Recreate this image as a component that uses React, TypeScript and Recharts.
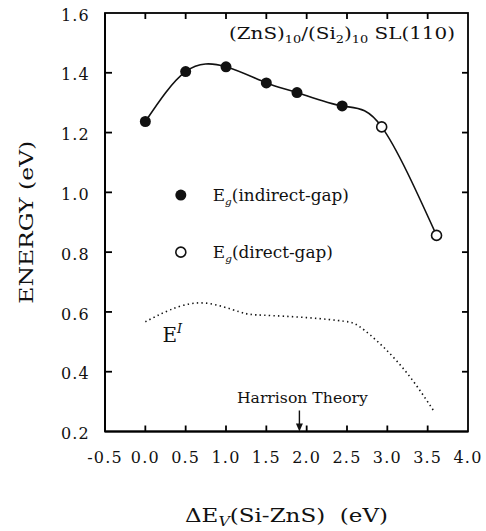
import { ComposedChart, Line, ReferenceDot, Scatter, XAxis, YAxis } from "recharts";

const serif = "DejaVu Serif";
const ink = "#111";

// layout
const chartW = 486;
const chartH = 531;
const margin = { top: 13, right: 18, left: 0, bottom: 0 };
const yAxisW = 105;
const xAxisH = 99.5;
const plotW = chartW - margin.right - margin.left - yAxisW;
const plotH = chartH - margin.top - margin.bottom - xAxisH;

const xTicks = [-0.5, 0, 0.5, 1, 1.5, 2, 2.5, 3, 3.5, 4];
const yTicks = [0.2, 0.4, 0.6, 0.8, 1.0, 1.2, 1.4, 1.6];
const xDomain = [-0.5, 4];
const yDomain = [0.2, 1.6];

// band gap vs valence band offset
const gapOffsets = [0.0, 0.5, 1.0, 1.5, 1.88, 2.44, 2.93, 3.61];
const gapEnergies = [1.237, 1.404, 1.42, 1.366, 1.334, 1.289, 1.219, 0.856];
const gapKinds = ["indirect", "indirect", "indirect", "indirect", "indirect", "indirect", "direct", "direct"];

// E^I dotted curve
const eiOffsets = [0.0, 0.3, 0.72, 1.17, 1.46, 2.0, 2.46, 2.66, 2.95, 3.28, 3.57];
const eiEnergies = [0.567, 0.606, 0.63, 0.6, 0.589, 0.581, 0.569, 0.55, 0.483, 0.383, 0.271];

const harrisonOffset = 1.91;

const gapData = gapOffsets.map((x, i) => ({ x, y: gapEnergies[i], kind: gapKinds[i] }));
const indirectPts = gapData.filter((d) => d.kind === "indirect");
const directPts = gapData.filter((d) => d.kind === "direct");
const eiData = eiOffsets.map((x, i) => ({ x, y: eiEnergies[i] }));

const innerX = xTicks.slice(1, -1);
const innerY = yTicks.slice(1, -1);

const fmt = (v: number) => v.toFixed(1);
const tickStyle = { fill: ink, fontSize: 16, style: { fontFamily: serif, letterSpacing: 1.2 } };

const FilledDot = (p: any) => <circle cx={p.cx} cy={p.cy} r={5.5} fill={ink} />;
const OpenDot = (p: any) => <circle cx={p.cx} cy={p.cy} r={5} fill="#fff" stroke={ink} strokeWidth={1.6} />;

const tickMark = (dx: number, dy: number) => (p: any) => (
  <g>
    <path d={`M${p.cx},${p.cy}L${p.cx + dx},${p.cy + dy}`} stroke="#000" strokeWidth={1.8} fill="none" />
  </g>
);

const txt = (size: number) => ({ fontSize: size, fill: ink, style: { fontFamily: serif } });

const XLabel = (props: any) => {
  const vb = props.viewBox;
  return (
    <text x={vb.x + vb.width / 2} y={vb.y + 90} textAnchor="middle" textLength={203} lengthAdjust="spacingAndGlyphs" {...txt(19)}>
      ΔE
      <tspan fontSize={13} fontStyle="italic" dy={4}>V</tspan>
      <tspan dy={-4}>(Si-ZnS){"\u00A0\u00A0"}(eV)</tspan>
    </text>
  );
};

const YLabel = (props: any) => {
  const vb = props.viewBox;
  const cy = vb.y + vb.height / 2;
  return (
    <text
      x={33}
      y={cy}
      transform={`rotate(-90, 33, ${cy})`}
      textAnchor="middle"
      textLength={163}
      lengthAdjust="spacingAndGlyphs"
      {...txt(19)}
    >
      ENERGY (eV)
    </text>
  );
};

export default function App() {
  return (
    <div style={{ position: "absolute", left: 0, top: 0, background: "#fff" }}>
      <ComposedChart width={chartW} height={chartH} margin={margin}>
        <XAxis
          dataKey="x"
          type="number"
          domain={xDomain}
          ticks={xTicks}
          interval={0}
          tickFormatter={fmt}
          tick={tickStyle}
          tickSize={0}
          tickMargin={20}
          height={xAxisH}
          axisLine={{ stroke: "#000", strokeWidth: 1.8 }}
          tickLine={false}
          label={{ content: XLabel }}
        />
        <YAxis
          type="number"
          domain={yDomain}
          ticks={yTicks}
          interval={0}
          tickFormatter={fmt}
          tick={{ ...tickStyle, dy: 2 }}
          tickSize={0}
          tickMargin={15}
          width={yAxisW}
          axisLine={{ stroke: "#000", strokeWidth: 1.8 }}
          tickLine={false}
          label={{ content: YLabel }}
        />

        <Line
          data={eiData}
          dataKey="y"
          type="natural"
          stroke={ink}
          strokeWidth={1.6}
          strokeDasharray="1.4 3.2"
          dot={false}
          isAnimationActive={false}
        />
        <Line data={gapData} dataKey="y" type="natural" stroke={ink} strokeWidth={1.6} dot={false} isAnimationActive={false} />
        <Scatter data={indirectPts} dataKey="y" shape={FilledDot} isAnimationActive={false} />
        <Scatter data={directPts} dataKey="y" shape={OpenDot} isAnimationActive={false} />

        <ReferenceDot
          x={4}
          y={1.6}
          shape={(p: any) => (
            <text x={p.cx - 13} y={p.cy + 26} textAnchor="end" textLength={226} lengthAdjust="spacingAndGlyphs" {...txt(17)}>
              (ZnS)<tspan fontSize={11} dy={4}>10</tspan>
              <tspan dy={-4}>/(Si</tspan>
              <tspan fontSize={11} dy={4}>2</tspan>
              <tspan dy={-4}>)</tspan>
              <tspan fontSize={11} dy={4}>10</tspan>
              <tspan dy={-4}>{"\u00A0"}SL(110)</tspan>
            </text>
          )}
        />
        <ReferenceDot
          x={0.44}
          y={0.991}
          shape={(p: any) => (
            <g>
              <circle cx={p.cx} cy={p.cy} r={5.5} fill={ink} />
              <text x={p.cx + 32} y={p.cy + 6} textLength={136} lengthAdjust="spacingAndGlyphs" {...txt(16)}>
                E<tspan fontSize={10} fontStyle="italic" dy={4}>g</tspan>
                <tspan dy={-4}>(indirect-gap)</tspan>
              </text>
            </g>
          )}
        />
        <ReferenceDot
          x={0.44}
          y={0.8}
          shape={(p: any) => (
            <g>
              <circle cx={p.cx} cy={p.cy} r={5} fill="#fff" stroke={ink} strokeWidth={1.6} />
              <text x={p.cx + 32} y={p.cy + 6} textLength={120} lengthAdjust="spacingAndGlyphs" {...txt(16)}>
                E<tspan fontSize={10} fontStyle="italic" dy={4}>g</tspan>
                <tspan dy={-4}>(direct-gap)</tspan>
              </text>
            </g>
          )}
        />
        <ReferenceDot
          x={0.2}
          y={0.5}
          shape={(p: any) => (
            <text x={p.cx + 1} y={p.cy} {...txt(20)}>
              E<tspan fontSize={13} fontStyle="italic" dy={-9}>I</tspan>
            </text>
          )}
        />
        <ReferenceDot
          x={harrisonOffset}
          y={0.2}
          shape={(p: any) => (
            <g>
              <text x={p.cx + 3} y={p.cy - 29} textAnchor="middle" textLength={131} lengthAdjust="spacingAndGlyphs" {...txt(14)}>
                Harrison Theory
              </text>
              <line x1={p.cx} y1={p.cy - 21} x2={p.cx} y2={p.cy - 4} stroke={ink} strokeWidth={1.4} />
              <polygon points={`${p.cx - 3.5},${p.cy - 8} ${p.cx + 3.5},${p.cy - 8} ${p.cx},${p.cy}`} fill={ink} />
            </g>
          )}
        />

        {/* frame, anchored at the top-left corner of the plot */}
        <ReferenceDot
          x={xDomain[0]}
          y={yDomain[1]}
          shape={(p: any) => (
            <g>
              <rect x={p.cx} y={p.cy} width={plotW} height={plotH} fill="none" stroke="#000" strokeWidth={1.8} />
            </g>
          )}
        />
        {/* inward ticks */}
        {innerX.map((t) => (
          <ReferenceDot key={`b${t}`} x={t} y={yDomain[0]} shape={tickMark(0, -6)} />
        ))}
        {innerX.map((t) => (
          <ReferenceDot key={`t${t}`} x={t} y={yDomain[1]} shape={tickMark(0, 6)} />
        ))}
        {innerY.map((t) => (
          <ReferenceDot key={`l${t}`} x={xDomain[0]} y={t} shape={tickMark(7, 0)} />
        ))}
        {innerY.map((t) => (
          <ReferenceDot key={`r${t}`} x={xDomain[1]} y={t} shape={tickMark(-6, 0)} />
        ))}
      </ComposedChart>
    </div>
  );
}
